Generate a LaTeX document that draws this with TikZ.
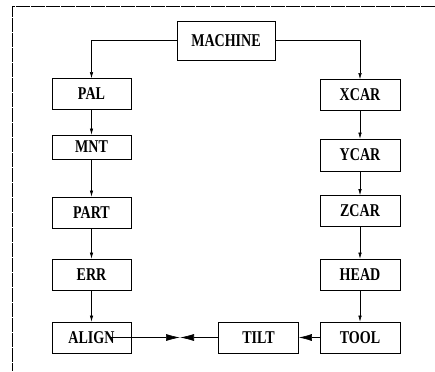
\documentclass[tikz,border=0pt]{standalone}
\usepackage{fontspec}
\setmainfont{Liberation Serif}
\newfontfamily\narrowfont[FakeStretch=0.78]{Liberation Serif}
\usetikzlibrary{arrows.meta}

\tikzset{
  blk/.style={draw, line width=0.7pt, minimum width=79pt, minimum height=31pt, inner sep=0pt,
    font=\narrowfont\fontsize{18}{18}\selectfont\bfseries},
  flow/.style={line width=0.6pt, -{Latex[length=6pt,width=3.5pt]}},
}

\begin{document}
\begin{tikzpicture}[x=1pt,y=1pt,yscale=-1,xscale=1]
				\useasboundingbox (0,0) rectangle (435,371);

				%Shape: Frame
				\draw [line width=0.5pt, dash pattern=on 14pt off 1pt] (435,6) -- (12,6) -- (12,371) ;

				% Text Node
				\node [blk, minimum width=98pt, minimum height=39pt] (machine) at (226,40.5) {MACHINE};
				% Text Node
				\node [blk] (pal) at (91.5,94) {PAL};
				% Text Node
				\node [blk, minimum height=24pt] (mnt) at (91.5,147) {MNT};
				% Text Node
				\node [blk] (part) at (91.5,212.5) {PART};
				% Text Node
				\node [blk] (err) at (91.5,274.5) {ERR};
				% Text Node
				\node [blk] (align) at (91.5,337.5) {ALIGN};
				% Text Node
				\node [blk, minimum width=80pt] (xcar) at (360,95) {XCAR};
				% Text Node
				\node [blk, minimum width=80pt, minimum height=32pt] (ycar) at (360,155) {YCAR};
				% Text Node
				\node [blk, minimum width=80pt] (zcar) at (360,211) {ZCAR};
				% Text Node
				\node [blk, minimum width=80pt] (head) at (360,274.5) {HEAD};
				% Text Node
				\node [blk, minimum width=80pt] (tool) at (360,337.5) {TOOL};
				% Text Node
				\node [blk, minimum width=80pt] (tilt) at (258.5,337.5) {TILT};

				\coordinate (meet) at (180,337.5);
				\coordinate (alignend) at ([xshift=-20pt]align.east);

				%Straight Lines
				\draw [flow] (machine.west) -| (pal.north) ;
				\draw [flow] (machine.east) -| (xcar.north) ;
				%Straight Lines
				\draw [flow] (pal) -- (mnt) ;
				\draw [flow] (mnt) -- (part) ;
				\draw [flow] (part) -- (err) ;
				\draw [flow] (err) -- (align) ;
				%Straight Lines
				\draw [flow] (xcar) -- (ycar) ;
				\draw [flow] (ycar) -- (zcar) ;
				\draw [flow] (zcar) -- (head) ;
				\draw [flow] (head) -- (tool) ;
				%Straight Lines
				\draw [line width=0.6pt, -{Latex[length=13pt,width=7pt]}] (tool) -- (tilt) ;
				\draw [line width=0.6pt, -{Latex[length=14pt,width=7pt]}] (alignend) -- (meet) ;
				\draw [line width=0.6pt, -{Latex[length=14pt,width=7pt]}] (tilt) -- (meet) ;

		\end{tikzpicture}
\end{document}
